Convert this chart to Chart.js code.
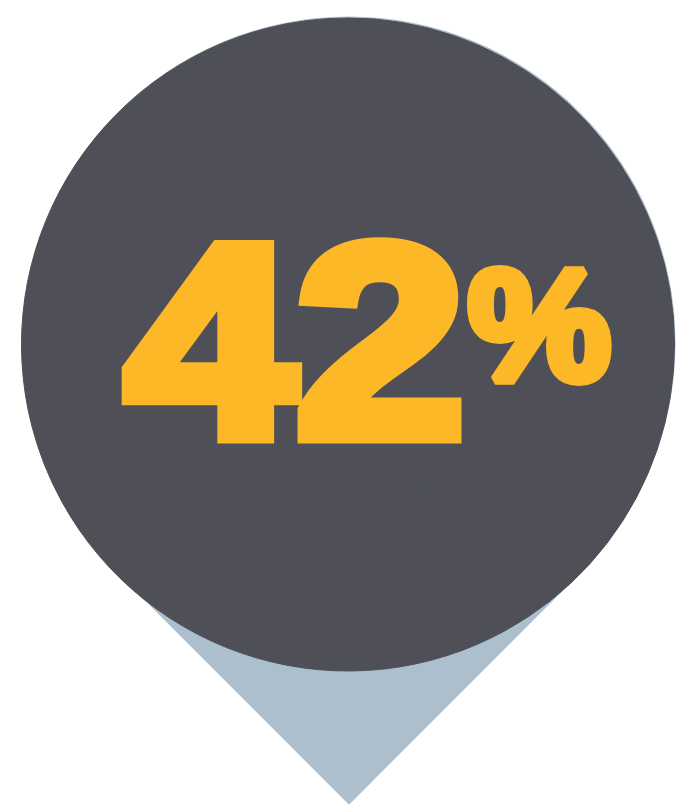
<!DOCTYPE html>
<html>
<head>
<meta charset="utf-8">
<script src="https://cdn.jsdelivr.net/npm/chart.js@4.4.0/dist/chart.umd.min.js"></script>
<style>
	html, body { margin: 0; padding: 0; background: #fff; }
	#wrap { width: 677px; height: 804px; position: relative; }
</style>
</head>
<body>
<div id="wrap"><canvas id="pinChart"></canvas></div>
<script>
// data
const labels = ['Share', 'Rest'];
const values = [42, 58];
const shownValue = 42;
const suffix = '%';

const GREY   = '#4f5057',
	  YELLOW = '#fdb827',
	  BLUE   = '#abbfcf';

// stretch a string so its ink fills a box (the display face is much heavier than any installed font)
function fitText(ctx, text, font, box, lw) {
	ctx.save();
	ctx.font = font;
	ctx.textAlign = 'left';
	ctx.textBaseline = 'alphabetic';
	let m = ctx.measureText(text);
	let gw = m.actualBoundingBoxLeft + m.actualBoundingBoxRight,
		gh = m.actualBoundingBoxAscent + m.actualBoundingBoxDescent;
	let sx = (box.r - box.l - lw) / gw,
		sy = (box.b - box.t - lw) / gh;
	ctx.translate(box.l + lw / 2, box.t + lw / 2);
	ctx.scale(sx, sy);
	ctx.fillStyle = YELLOW;
	ctx.strokeStyle = YELLOW;
	ctx.lineWidth = lw / ((sx + sy) / 2);
	ctx.lineJoin = 'miter';
	ctx.miterLimit = 2;
	ctx.fillText(text, m.actualBoundingBoxLeft, m.actualBoundingBoxAscent);
	if (lw) ctx.strokeText(text, m.actualBoundingBoxLeft, m.actualBoundingBoxAscent);
	ctx.restore();
}

const pinShape = {
	id: 'pinShape',
	beforeDatasetsDraw(chart) {
		const arc = chart.getDatasetMeta(0).data[0];
		const {x, y, outerRadius: r} = arc.getProps(['x', 'y', 'outerRadius'], true);
		const ctx = chart.ctx;
		let cx = x + 1, cy = y - 1.5;
		ctx.save();
		ctx.fillStyle = BLUE;
		ctx.beginPath();
		ctx.arc(cx, cy, r, Math.PI * 0.75, Math.PI * 0.25);
		ctx.lineTo(cx, cy + r * Math.SQRT2);
		ctx.closePath();
		ctx.fill();
		ctx.restore();
	}
};

const bigLabel = {
	id: 'bigLabel',
	afterDatasetsDraw(chart) {
		const arc = chart.getDatasetMeta(0).data[0];
		const {x, y} = arc.getProps(['x', 'y'], true);
		const ctx = chart.ctx;
		// offsets from the circle centre
		fitText(ctx, String(shownValue), 'bold 280px "Liberation Sans"',
			{l: x - 230.5, r: x + 117.7, t: y - 109, b: y + 99.5}, 16);
		fitText(ctx, suffix, 'bold 160px "Liberation Sans"',
			{l: x + 118, r: x + 264.5, t: y - 79.5, b: y + 41.5}, 10);
	}
};

const ctxPin = document.getElementById('pinChart').getContext('2d');
const pinChart = new Chart(ctxPin, {
	type: 'pie',
	data: {
		labels: labels,
		datasets: [{
			data: values,
			backgroundColor: [GREY, GREY],
			borderColor: GREY,
			borderWidth: 1,
			hoverOffset: 0
		}]
	},
	options: {
		responsive: true,
		maintainAspectRatio: false,
		animation: false,
		events: [],
		layout: {
			padding: {left: 21, right: 2, top: 17.5, bottom: 132.5}
		},
		plugins: {
			legend: { display: false },
			tooltip: { enabled: false }
		}
	},
	plugins: [pinShape, bigLabel]
});
</script>
</body>
</html>
